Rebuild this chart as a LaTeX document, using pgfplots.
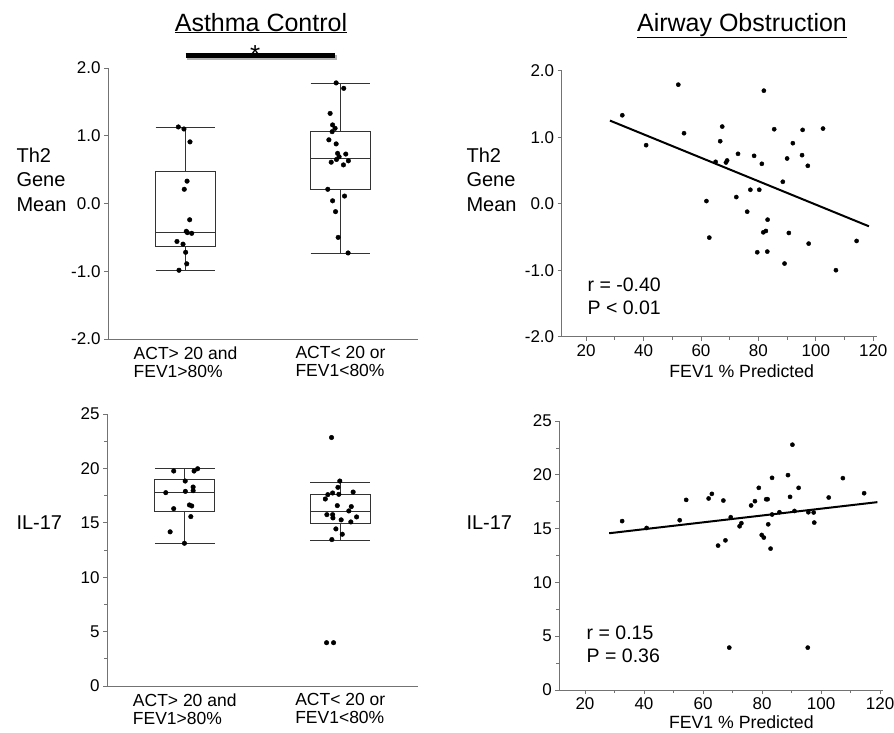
\documentclass[border=0pt]{standalone}
\usepackage{fontspec}
\setmainfont{Liberation Sans}
\usepackage{pgfplots}
\pgfplotsset{compat=1.18}
\usepgfplotslibrary{statistics}

\pgfplotsset{
  panel/.style={
    scale only axis, clip=false,
    axis x line*=bottom, axis y line*=left,
    axis line style={draw=black!55, line width=0.8pt},
    tick align=outside,
    major tick length=4pt, minor tick length=3pt,
    tick style={draw=black!55, line width=0.8pt},
    tick label style={font=\fontsize{17}{20}\selectfont, text=black},
    /pgf/number format/assume math mode=true,
  },
  onedec/.style={y tick label style={/pgf/number format/fixed,
      /pgf/number format/fixed zerofill, /pgf/number format/precision=1}},
  groups/.style={
    xmin=0.5, xmax=2.5, xtick={1,2},
    xticklabels={{ACT> 20 and\\FEV1>80\%},{ACT< 20 or\\FEV1<80\%}},
    x tick label style={align=left, font=\fontsize{17.5}{18}\selectfont},
    xtick style={draw=none},
    boxplot/draw direction=y,
  },
  fev/.style={
    xtick={20,40,...,120}, minor x tick num=1,
    xlabel={FEV1 \% Predicted},
    xlabel style={font=\fontsize{17.7}{20}\selectfont, anchor=base,
      at={(axis description cs:0,0)}},
  },
  bx/.style={draw=black!80, line width=0.8pt},
  dots/.style={only marks, mark=*, mark size=2.3pt, black},
  sdots/.style={only marks, mark=*, mark size=2.1pt, black},
}

\begin{document}
\begin{tikzpicture}
\useasboundingbox (0pt,0pt) rectangle (894pt,-732pt);

% titles and row labels
\node[anchor=base, font=\fontsize{25}{25}\selectfont] at (261pt,-31pt) {\underline{Asthma Control}};
\node[anchor=base, font=\fontsize{25}{25}\selectfont] at (742pt,-31pt) {\underline{Airway Obstruction}};
\foreach \xx in {13,463} {
  \node[anchor=base west, font=\fontsize{20}{20}\selectfont] at (\xx pt,-162.3pt) {Th2};
  \node[anchor=base west, font=\fontsize{20}{20}\selectfont] at (\xx pt,-186pt) {Gene};
  \node[anchor=base west, font=\fontsize{20}{20}\selectfont] at (\xx pt,-211pt) {Mean};
  \node[anchor=base west, font=\fontsize{20}{20}\selectfont] at (\xx pt,-529pt) {IL-17};
}

% Th2 by group
\begin{axis}[panel, groups, onedec, at={(108pt,-339pt)}, anchor=south west,
  width=310pt, height=271pt, ymin=-2, ymax=2, ytick={-2,-1,0,1,2}]
\addplot[bx, boxplot prepared={draw position=1, lower whisker=-0.985,
  lower quartile=-0.63, median=-0.43, upper quartile=0.475, upper whisker=1.13,
  box extend=0.385, whisker extend=0.385}] coordinates {};
\addplot[bx, boxplot prepared={draw position=2, lower whisker=-0.73,
  lower quartile=0.21, median=0.67, upper quartile=1.06, upper whisker=1.775,
  box extend=0.385, whisker extend=0.385}] coordinates {};
\addplot[dots] coordinates {
  (0.954,1.13) (0.990,1.10) (1.029,0.91) (1.010,0.33) (0.992,0.21) (1.027,-0.24)
  (1.005,-0.41) (1.012,-0.43) (1.040,-0.44) (0.945,-0.56) (0.984,-0.60)
  (1.001,-0.72) (1.008,-0.89) (0.958,-0.985)};
\addplot[dots] coordinates {
  (1.972,1.78) (2.021,1.70) (1.933,1.33) (1.949,1.16) (1.965,1.11) (1.946,1.06)
  (1.925,0.94) (1.972,0.88) (1.981,0.74) (2.034,0.73) (1.991,0.69) (1.974,0.65)
  (1.940,0.61) (2.051,0.63) (2.019,0.57) (1.918,0.21) (2.026,0.11) (1.949,0.04)
  (1.968,-0.12) (1.985,-0.50) (2.049,-0.73)};
\draw[line width=5pt, black!30] ([xshift=1.5pt,yshift=-1.5pt]axis cs:1.0,2.18)
  -- ([xshift=1.5pt,yshift=-1.5pt]axis cs:1.967,2.18);
\draw[line width=5pt, black] (axis cs:1.0,2.18) -- (axis cs:1.967,2.18);
\node[anchor=base, font=\fontsize{26}{26}\selectfont] at (axis cs:1.45,2.07) {*};
\end{axis}

% Th2 vs FEV1
\begin{axis}[panel, fev, onedec, at={(561.7pt,-336.7pt)}, anchor=south west,
  width=315pt, height=266pt, xmin=11.5, xmax=121.2, ymin=-2, ymax=2,
  ytick={-2,-1,0,1,2},
  xlabel style={xshift=180pt, yshift=-40.3pt}]
\addplot[sdots] coordinates {
  (32.6,1.33) (52.1,1.79) (40.9,0.88) (54.1,1.06) (81.9,1.70) (67.4,1.16)
  (66.7,0.94) (85.5,1.12) (95.4,1.11) (102.5,1.13) (92.0,0.91) (65.1,0.63)
  (68.7,0.62) (69.1,0.65) (72.9,0.75) (78.5,0.72) (81.2,0.60) (90.0,0.68)
  (95.2,0.73) (97.2,0.57) (88.5,0.33) (77.2,0.21) (80.3,0.21) (72.3,0.10)
  (61.9,0.04) (76.1,-0.12) (83.2,-0.24) (81.7,-0.43) (82.6,-0.41) (90.6,-0.44)
  (62.9,-0.51) (79.6,-0.73) (83.1,-0.72) (97.5,-0.60) (114.2,-0.56)
  (89.1,-0.90) (107.0,-1.00)};
\addplot[black, line width=2pt] coordinates {(28.3,1.25) (118.5,-0.34)};
\node[anchor=base west, font=\fontsize{19.5}{20}\selectfont] at ([yshift=-21.7pt]axis cs:19.3,-1.0) {r = -0.40};
\node[anchor=base west, font=\fontsize{19.5}{20}\selectfont] at ([yshift=-44pt]axis cs:19.3,-1.0) {P < 0.01};
\end{axis}

% IL-17 by group
\begin{axis}[panel, groups, at={(107pt,-686pt)}, anchor=south west,
  width=311pt, height=272pt, ymin=0, ymax=25, ytick={0,5,...,25},
  minor y tick num=1]
\addplot[bx, boxplot prepared={draw position=1, lower whisker=13.12,
  lower quartile=16.09, median=17.8, upper quartile=19.03, upper whisker=19.97,
  box extend=0.385, whisker extend=0.385}] coordinates {};
\addplot[bx, boxplot prepared={draw position=2, lower whisker=13.39,
  lower quartile=14.99, median=16.09, upper quartile=17.65, upper whisker=18.75,
  box extend=0.385, whisker extend=0.385}] coordinates {};
\addplot[dots] coordinates {
  (0.929,19.76) (1.060,19.76) (1.083,19.97) (1.003,18.84) (1.054,18.29)
  (1.004,17.89) (1.054,17.95) (0.878,17.77) (0.929,16.30) (1.030,16.64)
  (1.045,16.55) (1.039,15.57) (0.906,14.17) (0.998,13.12)};
\addplot[dots] coordinates {
  (1.944,22.84) (1.997,18.84) (1.985,18.26) (2.083,17.83) (1.951,17.74)
  (1.920,17.59) (1.991,17.62) (1.904,17.19) (1.981,16.58) (2.071,16.49)
  (2.055,16.09) (1.914,15.75) (1.951,15.75) (1.953,15.45) (2.105,15.54)
  (2.006,15.27) (2.068,15.08) (1.972,14.44) (2.013,13.95) (1.946,13.46)
  (1.912,3.98) (1.957,3.98)};
\end{axis}

% IL-17 vs FEV1
\begin{axis}[panel, fev, at={(559.3pt,-690pt)}, anchor=south west,
  width=323.7pt, height=269pt, xmin=11.3, xmax=121, ymin=0, ymax=25,
  ytick={0,5,...,25}, minor y tick num=1,
  xlabel style={xshift=182pt, yshift=-38pt}]
\addplot[sdots] coordinates {
  (32.6,15.70) (40.9,15.06) (52.1,15.78) (54.3,17.67) (61.9,17.80) (63.0,18.23)
  (66.9,17.61) (65.1,13.42) (67.6,13.91) (69.4,16.06) (68.9,3.94) (72.4,15.22)
  (73.0,15.50) (76.3,17.15) (77.6,17.55) (78.9,18.79) (79.9,14.41) (80.6,14.17)
  (81.4,17.73) (81.9,17.73) (82.1,15.40) (82.9,13.14) (83.4,19.72) (83.4,16.31)
  (85.9,16.52) (88.8,19.97) (89.5,17.95) (90.3,22.80) (91.0,16.64) (92.4,18.79)
  (95.5,3.94) (95.7,16.52) (97.5,16.50) (97.7,15.56) (102.6,17.89)
  (107.4,19.69) (114.6,18.29)};
\addplot[black, line width=2pt] coordinates {(28.2,14.57) (119.1,17.46)};
\node[anchor=base west, font=\fontsize{19.5}{20}\selectfont] at ([yshift=51pt]axis cs:19.4,0) {r = 0.15};
\node[anchor=base west, font=\fontsize{19.5}{20}\selectfont] at ([yshift=27.6pt]axis cs:19.4,0) {P = 0.36};
\end{axis}
\end{tikzpicture}
\end{document}
